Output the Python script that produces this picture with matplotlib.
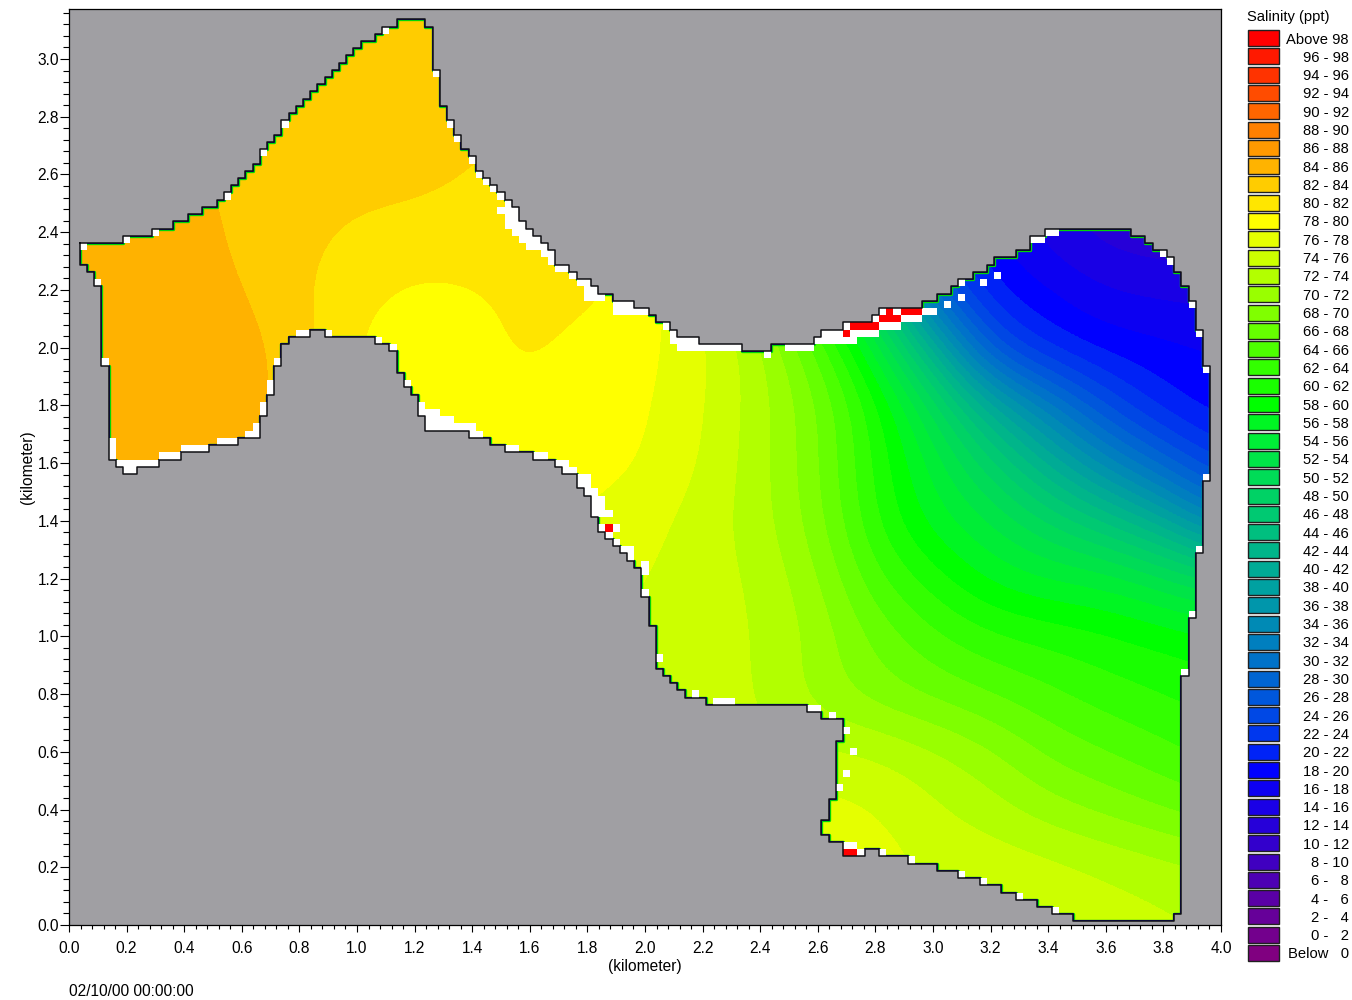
"""Salinity map of the lagoon with the staircase model boundary."""
import numpy as np
import matplotlib

matplotlib.use("Agg")
import matplotlib.pyplot as plt
from matplotlib.colors import BoundaryNorm, ListedColormap, to_rgb
from matplotlib.patches import Polygon, Rectangle
from matplotlib.ticker import MultipleLocator

plt.rcParams["font.family"] = ["Liberation Sans", "DejaVu Sans"]
plt.rcParams["font.size"] = 11.2

# boundary, clockwise: each entry runs along y from its x to the next x
outline_x = [.0375, .1875, .2875, .3625, .4125, .4625, .5125, .5375, .5625, .5875, .6125, .6375, .6625, .6875,
             .7125, .7375, .7625, .7875, .8125, .8375, .8625, .8875, .9125, .9375, .9625, .9875, 1.0125, 1.0625,
             1.0875, 1.1375, 1.2375, 1.2625, 1.2875, 1.3125, 1.3375, 1.3625, 1.3875, 1.4125, 1.4375, 1.4625,
             1.4875, 1.5125, 1.5375, 1.5625, 1.5875, 1.6125, 1.6375, 1.6625, 1.6875, 1.7375, 1.7625, 1.8125,
             1.8375, 1.8875, 1.9625, 2.0125, 2.0375, 2.0875, 2.1125, 2.1875, 2.3375, 2.4375, 2.5875, 2.6125,
             2.6875, 2.7875, 2.8125, 2.9625, 3.0125, 3.0625, 3.0875, 3.1375, 3.1875, 3.2125, 3.2875, 3.3375,
             3.3875, 3.6875, 3.7375, 3.7625, 3.8125, 3.8375, 3.8625, 3.8875, 3.9125, 3.9375, 3.9625, 3.9375,
             3.9125, 3.8875, 3.8625, 3.8375, 3.4875, 3.4125, 3.3625, 3.2875, 3.2375, 3.1625, 3.0875, 3.0125,
             2.9125, 2.8125, 2.7625, 2.6875, 2.6375, 2.6125, 2.6375, 2.6625, 2.6875, 2.6125, 2.5625, 2.2125,
             2.1375, 2.1125, 2.0875, 2.0625, 2.0375, 2.0125, 1.9875, 1.9625, 1.9375, 1.9125, 1.8875, 1.8625,
             1.8375, 1.8125, 1.7875, 1.7625, 1.7125, 1.6875, 1.6125, 1.5125, 1.4625, 1.3875, 1.2375, 1.2125,
             1.1875, 1.1625, 1.1375, 1.1125, 1.0625, .8875, .8375, .7625, .7375, .7125, .6875, .6625, .5875,
             .4875, .3875, .3125, .2375, .1875, .1625, .1375, .1125, .0875, .0625]
outline_y = [2.3625, 2.3875, 2.4125, 2.4375, 2.4625, 2.4875, 2.5125, 2.5375, 2.5625, 2.5875, 2.6125, 2.6375,
             2.6875, 2.7125, 2.7375, 2.7875, 2.8125, 2.8375, 2.8625, 2.8875, 2.9125, 2.9375, 2.9625, 2.9875,
             3.0125, 3.0375, 3.0625, 3.0875, 3.1125, 3.1375, 3.1125, 2.9625, 2.8375, 2.7875, 2.7375, 2.6875,
             2.6625, 2.6125, 2.5875, 2.5625, 2.5375, 2.5125, 2.4875, 2.4375, 2.4125, 2.3875, 2.3625, 2.3375,
             2.2875, 2.2625, 2.2375, 2.2125, 2.1875, 2.1625, 2.1375, 2.1125, 2.0875, 2.0625, 2.0375, 2.0125,
             1.9875, 2.0125, 2.0375, 2.0625, 2.0875, 2.1125, 2.1375, 2.1625, 2.1875, 2.2125, 2.2375, 2.2625,
             2.2875, 2.3125, 2.3375, 2.3875, 2.4125, 2.3875, 2.3625, 2.3375, 2.3125, 2.2625, 2.2125, 2.1625,
             2.0625, 1.9375, 1.5375, 1.2875, 1.0625, .8625, .0375, .0125, .0375, .0625, .0875, .1125, .1375,
             .1625, .1875, .2125, .2375, .2625, .2375, .2875, .3125, .3625, .4375, .6375, .7125, .7375, .7625,
             .7875, .8125, .8375, .8625, .8875, 1.0375, 1.1375, 1.2375, 1.2625, 1.2875, 1.3125, 1.3375, 1.3625,
             1.4125, 1.4875, 1.5125, 1.5625, 1.5875, 1.6125, 1.6375, 1.6625, 1.6875, 1.7125, 1.7625, 1.8375,
             1.8625, 1.9125, 1.9875, 2.0125, 2.0375, 2.0625, 2.0375, 2.0125, 1.9375, 1.8375, 1.7625, 1.6875,
             1.6625, 1.6375, 1.6125, 1.5875, 1.5625, 1.5875, 1.6125, 1.9375, 2.2125, 2.2625, 2.2875]

grid_x = [0.0, 0.2, 0.4, 0.6, 0.8, 1.0, 1.2, 1.4, 1.6, 1.8, 2.0, 2.2, 2.4, 2.6, 2.8, 3.0, 3.2, 3.4, 3.6, 3.8, 4.0]
grid_y = [0.0, 0.2, 0.4, 0.6, 0.8, 1.0, 1.2, 1.4, 1.6, 1.8, 2.0, 2.2, 2.4, 2.6, 2.8, 3.0, 3.2]
salinity = [
    [85, 85, 85, 85, 83, 80, 79, 78, 77, 76, 76, 76, 77, 77.5, 77.5, 76, 75.5, 75.2, 75, 74.5, 74],
    [85, 85, 85, 85, 83, 80, 79, 78, 77, 76, 76, 76, 77, 77.5, 77, 75.5, 75.5, 75, 74, 73, 72],
    [85, 85, 85, 85, 83, 80, 79, 78, 77, 76, 76, 76, 76.5, 77, 76.2, 74.5, 73, 71, 69.5, 68, 66.5],
    [85, 85, 85, 85, 83, 80, 79, 78, 77, 76, 75.5, 75, 74.5, 74.5, 74, 72.5, 70.5, 67.5, 66, 64.5, 63],
    [85, 85, 85, 85, 83, 80, 79, 78, 77, 76, 75, 74.8, 74.1, 71, 69, 67.5, 66, 64.5, 63, 62, 61],
    [85, 85, 85, 85, 83, 80, 79, 78, 77, 76, 75.5, 75, 74, 71.5, 67.5, 64.5, 62.5, 61.5, 60.5, 59.5, 58.5],
    [85, 85, 85, 85, 83, 80, 79.5, 78.5, 78, 77, 76, 75, 73.7, 70.5, 64.5, 61, 57.5, 56, 55.5, 53, 50],
    [85, 85, 85, 85, 83, 80, 80, 79, 79, 77.5, 76.8, 75, 73, 69, 62, 57, 54, 50, 46, 41, 33],
    [85, 85, 85, 85, 83, 80, 79.5, 79, 79, 79, 78, 76, 72.8, 68.5, 61.5, 55.5, 49, 42, 35, 29, 23],
    [85, 85, 85, 85, 83, 80, 80, 79.5, 79.5, 79, 78.4, 76.3, 73, 68.5, 61, 52, 41, 33, 25.5, 20.5, 18.5],
    [85, 85, 85, 85, 83, 79.6, 78.8, 79.3, 80.5, 79.3, 78.7, 76.6, 72.8, 66, 56, 42, 26, 21, 19, 18.5, 18],
    [85, 85, 85, 84.2, 82.3, 80.7, 79.5, 79.8, 80.5, 80.6, 79, 76, 70, 60, 48, 28, 20, 18, 16, 15.5, 15],
    [85, 85, 85, 83.5, 82.6, 81.6, 81.4, 81.2, 81, 81, 80, 76, 68, 55, 35, 22, 18, 15, 13, 12.5, 12],
    [85, 85, 84.6, 83.3, 83, 82.8, 82.5, 81.9, 81, 81, 80, 76, 68, 55, 35, 20, 18, 15, 12.5, 12, 12],
    [85, 85, 84.5, 83.5, 83, 83, 83, 82.8, 82, 81, 80, 76, 68, 55, 35, 20, 18, 15, 12.5, 12, 12],
    [85, 85, 84.5, 83.5, 83, 83, 83, 83, 82, 81, 80, 76, 68, 55, 35, 20, 18, 15, 12.5, 12, 12],
    [85, 85, 85, 84, 84, 83, 83, 83, 82, 81, 80, 76, 68, 55, 35, 20, 18, 15, 12.5, 12, 12],
]

# dropped (dry) cells along the shore
white_x = [.05, .2, .3, .55, .675, .75, .1, .125, .15, .15, .15, .175, .2, .225, .25, .275, .3, .2, .225, .325, .35, .375,
           .4, .425, .45, .475, .525, .55, .575, .625, .65, .65, .675, .675, .7, .7, .725, .8, .825, .9, 1.075, 1.125,
           1.175, 1.225, 1.225, 1.25, 1.275, 1.25, 1.275, 1.3, 1.325, 1.25, 1.275, 1.3, 1.325, 1.35, 1.375, 1.4, 1.4, 1.425,
           1.525, 1.55, 1.625, 1.65, 1.7, 1.725, 1.725, 1.75, 1.775, 1.8, 1.775, 1.8, 1.8, 1.825, 1.825, 1.85, 1.825, 1.85,
           1.825, 1.85, 1.875, 1.85, 1.9, 1.875, 1.9, 1.925, 1.95, 1.95, 2.0, 2.0, 2.0, 2.05, 2.175, 2.25, 2.275, 2.3,
           2.575, 2.6, 2.65, 2.7, 2.725, 2.7, 2.675, 2.7, 2.725, 2.75, 2.825, 2.925, 3.1, 3.175, 3.3, 3.425,
           3.875, 3.9, 3.925, 3.95, 3.95, 3.925, 3.9, 3.825, 3.8, 3.4, 3.425, 3.35, 3.375, 3.225, 3.175, 3.1, 3.1, 3.05,
           2.975, 3.0, 2.9, 2.925, 2.95, 2.825, 2.875, 2.8, 2.825, 2.85, 2.875, 2.7, 2.625, 2.65, 2.675, 2.725, 2.75, 2.775, 2.8,
           2.6, 2.625, 2.65, 2.675, 2.7, 2.725, 2.5, 2.525, 2.55, 2.575, 2.125, 2.15, 2.175, 2.2, 2.225, 2.25, 2.275, 2.3, 2.325,
           2.425, 2.1, 2.1, 2.125, 2.15, 2.175, 2.075, 1.1, 1.275, 1.325, 1.35, 1.4, 1.425, 1.45, 1.475, 1.5, 1.525,
           1.5, 1.525, 1.55, 1.525, 1.55, 1.525, 1.55, 1.575, 1.55, 1.575, 1.6, 1.575, 1.6, 1.625, 1.6, 1.625, 1.65, 1.65, 1.675,
           1.675, 1.7, 1.725, 1.75, 1.775, 1.8, 1.8, 1.825, 1.8, 1.825, 1.85, 1.9, 1.925, 1.95, 1.9, 1.925, 1.95, 1.975, 2.0]
white_y = [2.35, 2.375, 2.4, 2.525, 2.675, 2.775, 2.225, 1.95, 1.625, 1.65, 1.675, 1.6, 1.6, 1.6, 1.6, 1.6, 1.6, 1.575, 1.575, 1.625, 1.625, 1.625,
           1.65, 1.65, 1.65, 1.65, 1.675, 1.675, 1.675, 1.7, 1.7, 1.725, 1.775, 1.8, 1.85, 1.875, 1.95, 2.05, 2.05, 2.05, 2.025, 2.0,
           1.875, 1.8, 1.775, 1.775, 1.775, 1.75, 1.75, 1.75, 1.75, 1.725, 1.725, 1.725, 1.725, 1.725, 1.725, 1.725, 1.7, 1.7,
           1.65, 1.65, 1.625, 1.625, 1.6, 1.6, 1.575, 1.575, 1.55, 1.55, 1.525, 1.525, 1.5, 1.5, 1.475, 1.475, 1.45, 1.45,
           1.425, 1.425, 1.425, 1.375, 1.375, 1.35, 1.325, 1.3, 1.3, 1.275, 1.25, 1.225, 1.15, .925, .8, .775, .775, .775,
           .75, .75, .725, .675, .6, .525, .475, .275, .275, .25, .25, .225, .175, .15, .1, .05,
           .875, 1.075, 1.3, 1.55, 1.925, 2.05, 2.15, 2.3, 2.325, 2.4, 2.4, 2.375, 2.375, 2.25, 2.225, 2.225, 2.175, 2.15,
           2.125, 2.125, 2.1, 2.1, 2.1, 2.125, 2.125, 2.1, 2.075, 2.075, 2.075, 2.075, 2.05, 2.05, 2.05, 2.05, 2.05, 2.05, 2.05,
           2.025, 2.025, 2.025, 2.025, 2.025, 2.025, 2.0, 2.0, 2.0, 2.0, 2.0, 2.0, 2.0, 2.0, 2.0, 2.0, 2.0, 2.0, 2.0,
           1.975, 2.05, 2.025, 2.025, 2.025, 2.025, 2.075, 3.1, 2.95, 2.775, 2.725, 2.65, 2.6, 2.575, 2.55, 2.525, 2.5,
           2.475, 2.475, 2.475, 2.45, 2.45, 2.425, 2.425, 2.425, 2.4, 2.4, 2.4, 2.375, 2.375, 2.375, 2.35, 2.35, 2.35, 2.325, 2.325,
           2.3, 2.275, 2.275, 2.25, 2.225, 2.225, 2.2, 2.2, 2.175, 2.175, 2.175, 2.15, 2.15, 2.15, 2.125, 2.125, 2.125, 2.125, 2.125]

# cells with bad (very high) salinity
red_x = [1.875, 2.7, 2.725, 2.9, 2.925, 2.95, 2.85, 2.825, 2.85, 2.875, 2.725, 2.75, 2.775, 2.8, 2.7]
red_y = [1.375, .25, .25, 2.125, 2.125, 2.125, 2.125, 2.1, 2.1, 2.1, 2.075, 2.075, 2.075, 2.075, 2.05]

legend_title = "Salinity (ppt)"
legend_labels = ["Above 98"] + [f"{lo} - {lo + 2}" for lo in range(96, 8, -2)] + [
    "8 - 10", "6 -   8", "4 -   6", "2 -   4", "0 -   2", "Below   0"]
levels = [-100] + list(range(0, 100, 2)) + [200]
cell = 0.025


def ramp(start, stop, n, power=1.0):
    # colours between two legend anchors
    a, b = np.array(to_rgb(start)), np.array(to_rgb(stop))
    t = np.linspace(0, 1, n, endpoint=False)[:, None]
    return list(((1 - t) * a**power + t * b**power) ** (1 / power))


# low to high, one per level band
colors = (ramp("#800080", "#0000ff", 10) + ramp("#0000ff", "#00ff00", 20, 1.5)
          + ramp("#00ff00", "#ffff00", 10) + ramp("#ffff00", "#ff0000", 10) + [np.array([1.0, 0, 0])])
cmap = ListedColormap(colors)
norm = BoundaryNorm(levels, cmap.N)

fig = plt.figure(figsize=(13.52, 10), dpi=100)
ax = fig.add_axes([69 / 1352, 75 / 1000, 1152 / 1352, 916 / 1000], facecolor="#a09fa3")

verts = []
for i in range(len(outline_x)):
    verts.append((outline_x[i], outline_y[i]))
    verts.append((outline_x[(i + 1) % len(outline_x)], outline_y[i]))
shore = Polygon(verts, closed=True, fc="none", ec="none", transform=ax.transData)
ax.add_patch(shore)

im = ax.imshow(np.array(salinity), origin="lower", extent=(-0.1, 4.1, -0.1, 3.3), aspect="auto",
               cmap=cmap, norm=norm, interpolation="bicubic", interpolation_stage="data", zorder=1)
im.set_clip_path(shore)

# thin band of squeezed contours just inside the shoreline
vx, vy = zip(*(verts + verts[:1]))
rim, = ax.plot(vx, vy, color="#00e000", lw=2.4, zorder=2)
rim.set_clip_path(shore)
rim2, = ax.plot(vx, vy, color="#0000a0", lw=1.5, zorder=2)
rim2.set_clip_path(shore)

for x, y in zip(white_x, white_y):
    ax.add_patch(Rectangle((x - cell / 2, y - cell / 2), cell, cell, fc="white", ec="none", zorder=3))
for x, y in zip(red_x, red_y):
    ax.add_patch(Rectangle((x - cell / 2, y - cell / 2), cell, cell, fc="#ff0000", ec="none", zorder=4))
ax.plot(vx, vy, color="#101014", lw=1.1, zorder=5)

ax.set_xlim(0, 4)
ax.set_ylim(0, 916 / 288.67)
ax.xaxis.set_major_locator(MultipleLocator(0.2))
ax.xaxis.set_minor_locator(MultipleLocator(0.04))
ax.yaxis.set_major_locator(MultipleLocator(0.2))
ax.yaxis.set_minor_locator(MultipleLocator(0.04))
ax.xaxis.set_major_formatter("{x:.1f}")
ax.yaxis.set_major_formatter("{x:.1f}")
ax.tick_params(axis="x", which="major", length=5, width=0.8, pad=6.7)
ax.tick_params(axis="x", which="minor", length=3, width=0.8)
ax.tick_params(axis="y", which="major", length=6.5, width=0.8, pad=0.8)
ax.tick_params(axis="y", which="minor", length=4, width=0.8)
ax.set_xlabel("(kilometer)", labelpad=1.8)
ax.set_ylabel("(kilometer)", labelpad=2)
for sp in ax.spines.values():
    sp.set_linewidth(0.9)

fig.text(69 / 1352, 1 - 991 / 1000, "02/10/00 00:00:00", va="center", ha="left")

# legend drawn in figure pixels
leg = fig.add_axes([0, 0, 1, 1], facecolor="none")
leg.set_xlim(0, 1352)
leg.set_ylim(1000, 0)
leg.axis("off")
leg.text(1247, 16.5, legend_title, va="center", ha="left", fontsize=10.6)
row_h = (953 - 38) / 50
for i, label in enumerate(legend_labels):
    yc = 38 + i * row_h
    leg.add_patch(Rectangle((1248, yc - 8), 31, 16, fc=colors[50 - i], ec="#202020", lw=1))
    leg.text(1349, yc + 1.5, label, va="center", ha="right", fontsize=10.6)

fig.savefig("out.png", dpi=100)
